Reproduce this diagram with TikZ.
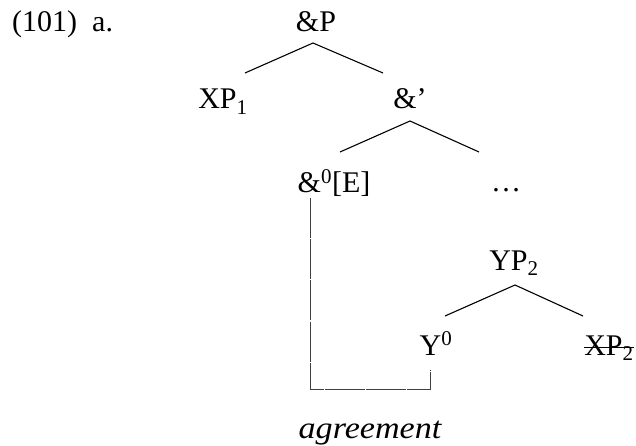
\documentclass[tikz,border=0pt]{standalone}
\usepackage{fontspec}
\setmainfont{Liberation Serif}
\begin{document}
\begin{tikzpicture}[x=1pt,y=-1pt,
  lbl/.style={inner sep=0pt,anchor=base,font=\fontsize{30}{35}\selectfont},
  branch/.style={line width=1.1pt,black},
  agr/.style={line width=1pt,black!75,dash pattern=on 40pt off 1.2pt}]
\useasboundingbox (0,0) rectangle (636,446);
% labels
\node[lbl,anchor=base west] (num) at (12,32) {(101)};
\node[lbl,anchor=base west] (ex) at (92,32) {a.};
\node[lbl] (andP) at (316,32) {\&P};
\node[lbl] (xp1) at (223,109) {XP\textsubscript{1}};
\node[lbl] (andbar) at (410,109) {\&’};
\node[lbl] (and0) at (334,193) {\&\textsuperscript{0}[E]};
\node[lbl] (dots) at (506,192) {\dots};
\node[lbl] (yp2) at (514,270) {YP\textsubscript{2}};
\node[lbl] (y0) at (436,355) {Y\textsuperscript{0}};
\node[lbl] (xp2) at (609,355) {XP\textsubscript{2}};
\node[lbl,font=\fontsize{31}{36}\selectfont\itshape] (agree) at (370,438) {\scalebox{1.1}[1]{agreement}};
% branch points
\coordinate (a1) at (313,43);
\coordinate (a1l) at (245,73);
\coordinate (a1r) at (383,73);
\coordinate (a2) at (410,121);
\coordinate (a2l) at (340,152);
\coordinate (a2r) at (479,152);
\coordinate (a3) at (515,285);
\coordinate (a3l) at (445,316);
\coordinate (a3r) at (583,316);
\draw[branch] (a1l) -- (a1) -- (a1r);
\draw[branch] (a2l) -- (a2) -- (a2r);
\draw[branch] (a3l) -- (a3) -- (a3r);
% strike-through
\draw[line width=1pt] ([yshift=8pt]xp2.base west) -- ([yshift=8pt]xp2.base east);
% agreement path
\coordinate (g1) at (310,198);
\coordinate (g2) at (310,389);
\coordinate (g3) at (430,389);
\coordinate (g4) at (430,370);
\draw[agr] (g1) -- (g2) -- (g3) -- (g4);
\end{tikzpicture}
\end{document}
